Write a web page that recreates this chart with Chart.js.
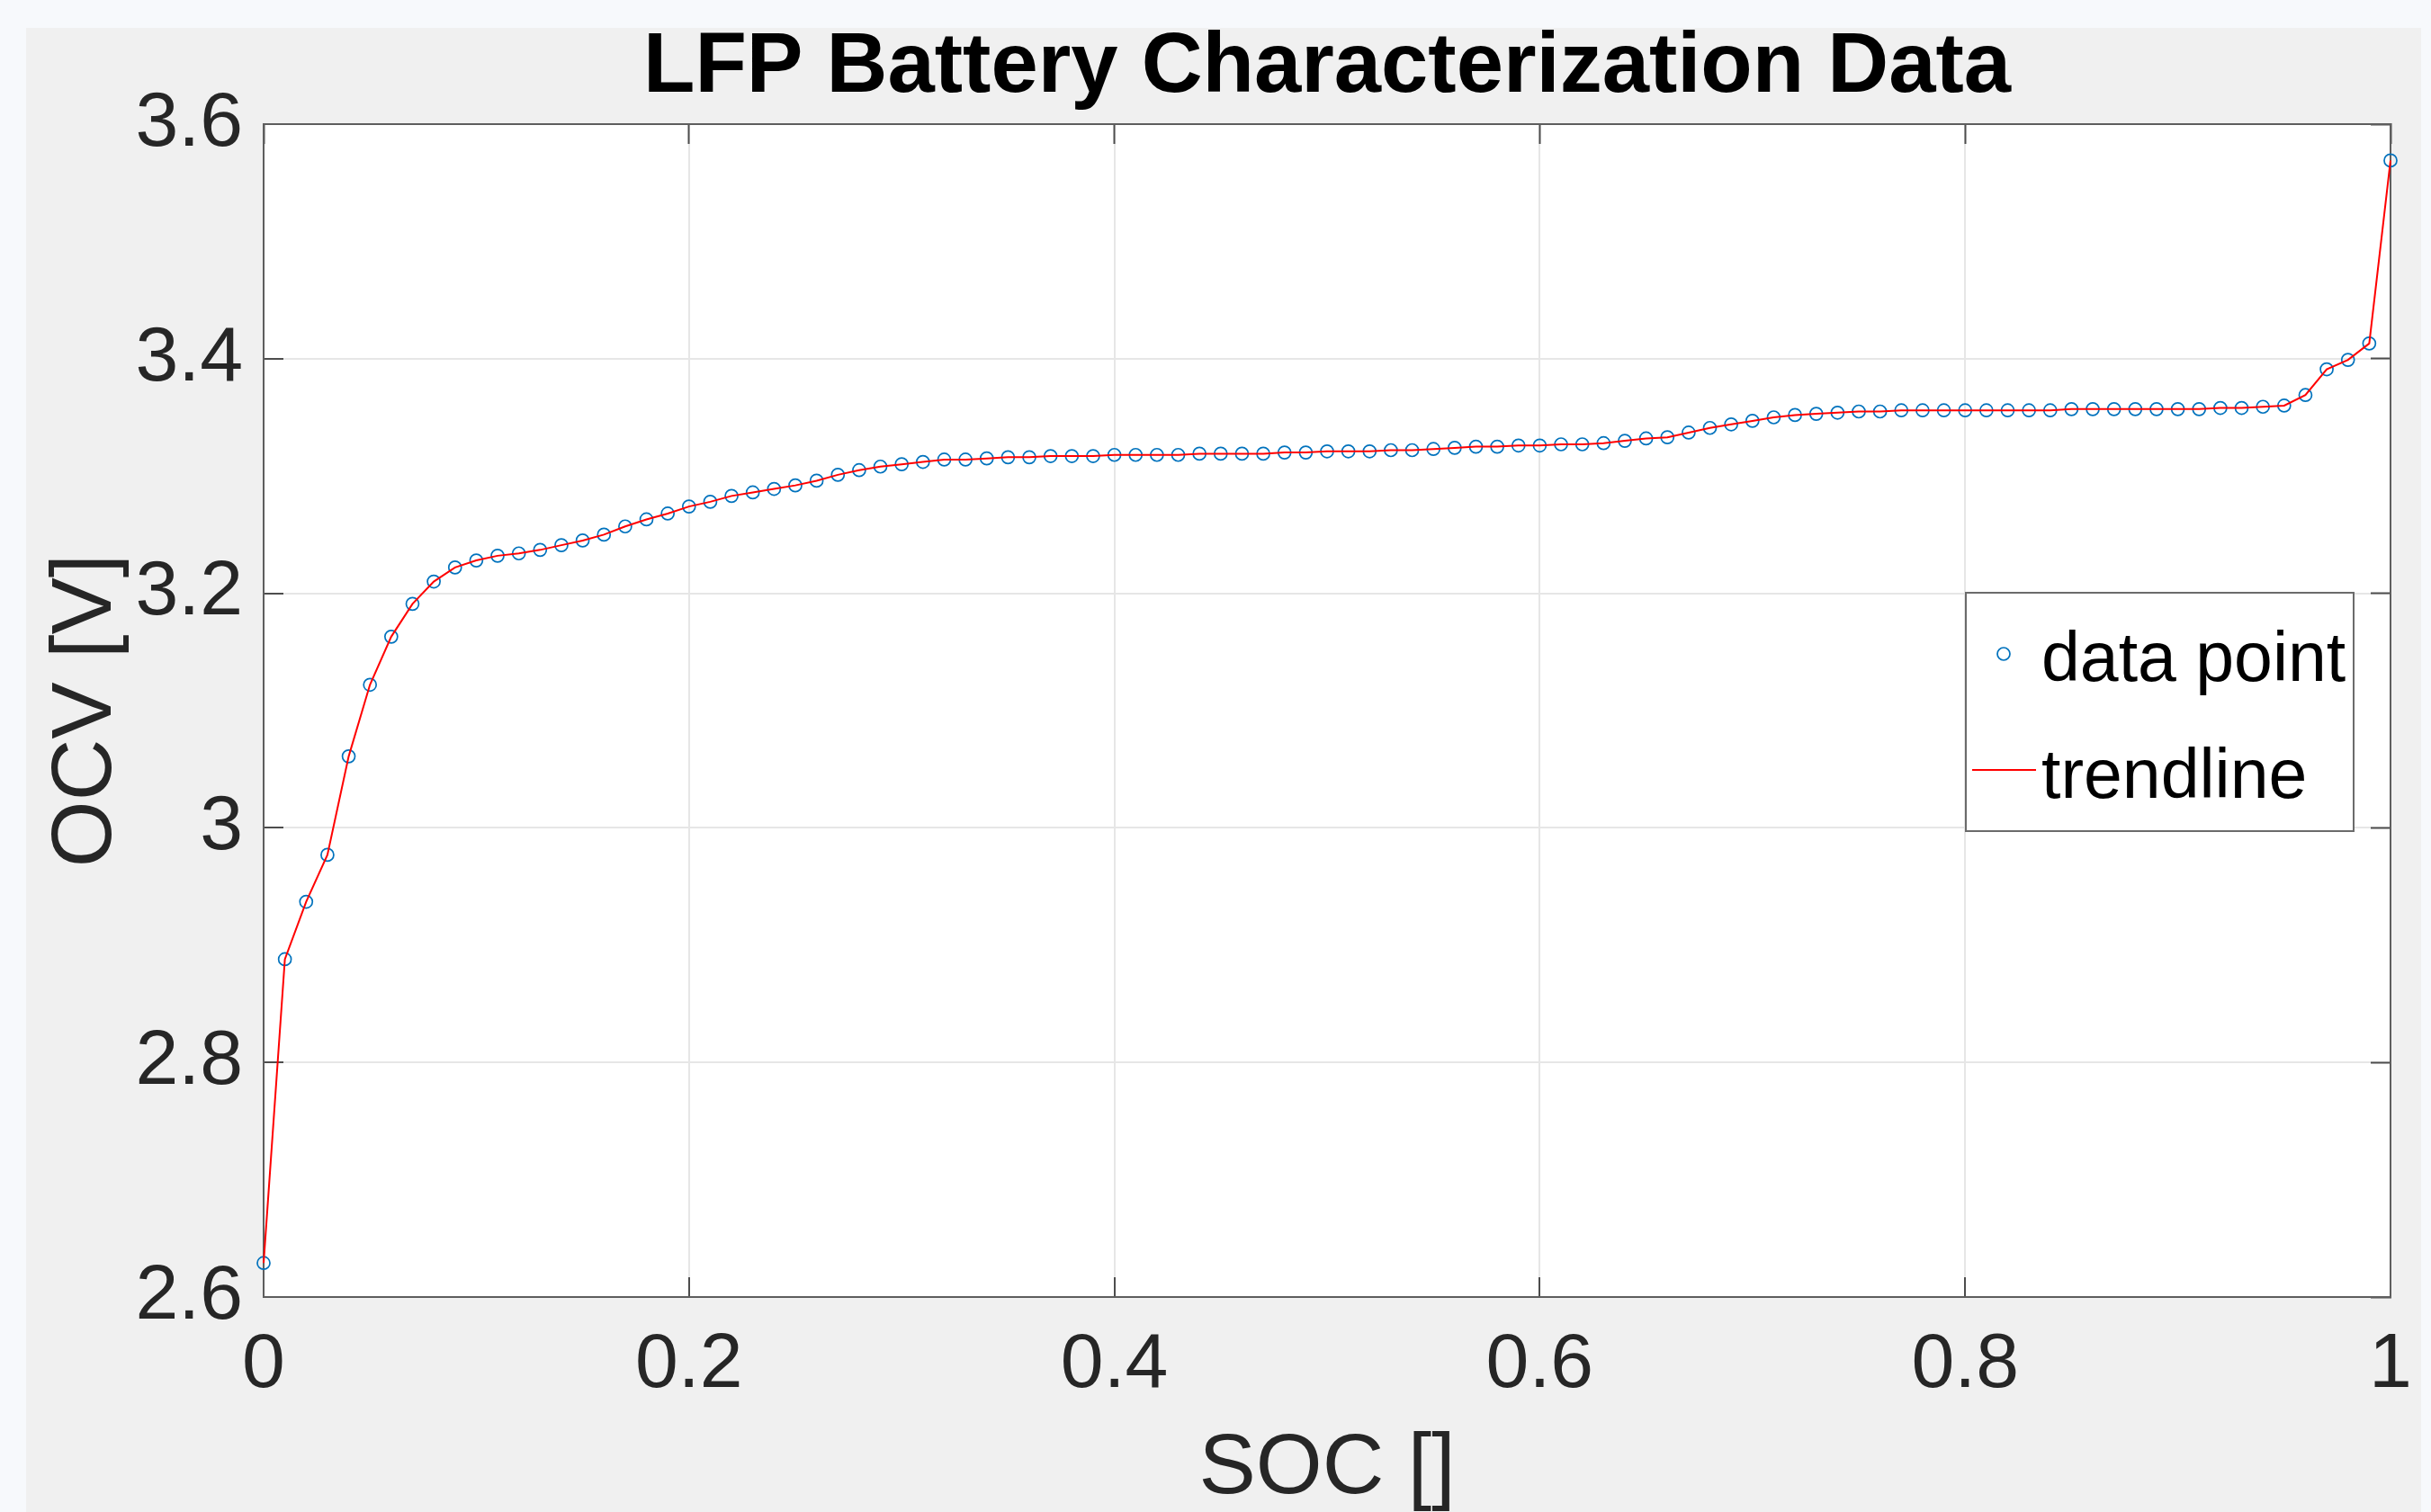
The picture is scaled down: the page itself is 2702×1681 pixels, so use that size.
<!DOCTYPE html>
<html>
<head>
<meta charset="utf-8">
<title>LFP Battery Characterization Data</title>
<script src="https://cdn.jsdelivr.net/npm/chart.js@4.4.1/dist/chart.umd.min.js"></script>
<style>
  html, body { margin: 0; padding: 0; background: #f7f9fc; }
  canvas { display: block; }
</style>
</head>
<body>
<canvas id="ocvChart" width="2702" height="1681"></canvas>
<script>
// state of charge, 0..1 in 0.01 steps
var soc = [
  0.00, 0.01, 0.02, 0.03, 0.04, 0.05, 0.06, 0.07, 0.08, 0.09,
  0.10, 0.11, 0.12, 0.13, 0.14, 0.15, 0.16, 0.17, 0.18, 0.19,
  0.20, 0.21, 0.22, 0.23, 0.24, 0.25, 0.26, 0.27, 0.28, 0.29,
  0.30, 0.31, 0.32, 0.33, 0.34, 0.35, 0.36, 0.37, 0.38, 0.39,
  0.40, 0.41, 0.42, 0.43, 0.44, 0.45, 0.46, 0.47, 0.48, 0.49,
  0.50, 0.51, 0.52, 0.53, 0.54, 0.55, 0.56, 0.57, 0.58, 0.59,
  0.60, 0.61, 0.62, 0.63, 0.64, 0.65, 0.66, 0.67, 0.68, 0.69,
  0.70, 0.71, 0.72, 0.73, 0.74, 0.75, 0.76, 0.77, 0.78, 0.79,
  0.80, 0.81, 0.82, 0.83, 0.84, 0.85, 0.86, 0.87, 0.88, 0.89,
  0.90, 0.91, 0.92, 0.93, 0.94, 0.95, 0.96, 0.97, 0.98, 0.99,
  1.00
];
// open circuit voltage [V]
var ocv = [
  2.629, 2.888, 2.937, 2.977, 3.061, 3.122, 3.163, 3.191, 3.210, 3.222,
  3.228, 3.232, 3.234, 3.237, 3.241, 3.245, 3.250, 3.257, 3.263, 3.268,
  3.274, 3.278, 3.283, 3.286, 3.289, 3.292, 3.296, 3.301, 3.305, 3.308,
  3.310, 3.312, 3.314, 3.314, 3.315, 3.316, 3.316, 3.317, 3.317, 3.317,
  3.318, 3.318, 3.318, 3.318, 3.319, 3.319, 3.319, 3.319, 3.320, 3.320,
  3.321, 3.321, 3.321, 3.322, 3.322, 3.323, 3.324, 3.325, 3.325, 3.326,
  3.326, 3.327, 3.327, 3.328, 3.330, 3.332, 3.333, 3.337, 3.341, 3.344,
  3.347, 3.350, 3.352, 3.353, 3.354, 3.355, 3.355, 3.356, 3.356, 3.356,
  3.356, 3.356, 3.356, 3.356, 3.356, 3.357, 3.357, 3.357, 3.357, 3.357,
  3.357, 3.357, 3.358, 3.358, 3.359, 3.360, 3.369, 3.391, 3.399, 3.413,
  3.569
];
var xTicks = [0, 0.2, 0.4, 0.6, 0.8, 1];
var yTicks = [2.6, 2.8, 3, 3.2, 3.4, 3.6];

var FONT = '"Liberation Sans", Arial, Helvetica, sans-serif';
var BLUE = '#0072BD';
var RED = '#ff0000';

var points = [];
for (var i = 0; i < soc.length; i++) {
    points.push({ x: soc[i], y: ocv[i] });
}

function useTicks(list) {
    return function (axis) {
        axis.ticks = list.map(function (v) { return { value: v }; });
    };
}

// grey figure background + white axes area
var backgroundPlugin = {
    id: 'figureBackground',
    beforeDraw: function (chart) {
        var c = chart.ctx, a = chart.chartArea;
        c.save();
        c.fillStyle = '#f7f9fc';
        c.fillRect(0, 0, chart.width, chart.height);
        c.fillStyle = '#f0f0f0';
        c.fillRect(29, 31, 2662, chart.height - 31);
        c.fillStyle = '#ffffff';
        c.fillRect(a.left, a.top, a.right - a.left, a.bottom - a.top);
        c.restore();
    }
};

// boxed legend inside the axes, like matlab's "best" location
var legendPlugin = {
    id: 'boxLegend',
    afterDraw: function (chart) {
        var c = chart.ctx, a = chart.chartArea;
        var left = a.right - 472, top = a.top + 521, w = 431, h = 265;
        c.save();
        c.fillStyle = '#ffffff';
        c.fillRect(left, top, w, h);
        c.strokeStyle = '#6b6b6b';
        c.lineWidth = 2;
        c.strokeRect(left, top, w, h);
        // data point marker
        c.beginPath();
        c.arc(left + 42, top + 68, 7, 0, Math.PI * 2);
        c.strokeStyle = BLUE;
        c.lineWidth = 1.7;
        c.stroke();
        // trendline sample
        c.beginPath();
        c.moveTo(left + 7, top + 197);
        c.lineTo(left + 78, top + 197);
        c.strokeStyle = RED;
        c.lineWidth = 2;
        c.stroke();
        c.fillStyle = '#000000';
        c.font = '77px ' + FONT;
        c.textBaseline = 'alphabetic';
        c.textAlign = 'left';
        c.fillText('data point', left + 84, top + 98);
        c.fillText('trendline', left + 84, top + 228);
        c.restore();
    }
};

var gridOpts = {
    color: '#e6e6e6',
    lineWidth: 2,
    tickLength: -22,
    tickColor: '#4d4d4d',
    tickWidth: 2
};
var borderOpts = { display: true, color: '#5e5e5e', width: 2 };

var ctx = document.getElementById('ocvChart').getContext('2d');
var ocvChart = new Chart(ctx, {
    type: 'scatter',
    data: {
        datasets: [
            {
                label: 'trendline',
                data: points,
                showLine: true,
                borderColor: RED,
                borderWidth: 2,
                pointRadius: 0,
                pointHoverRadius: 0,
                tension: 0,
                clip: false,
                order: 1
            },
            {
                label: 'data point',
                data: points,
                showLine: false,
                pointStyle: 'circle',
                pointRadius: 7,
                pointHoverRadius: 7,
                borderWidth: 1.7,
                borderColor: BLUE,
                backgroundColor: 'rgba(0,0,0,0)',
                clip: false,
                order: 2
            }
        ]
    },
    options: {
        responsive: false,
        devicePixelRatio: 1,
        animation: false,
        events: [],
        layout: { padding: { left: 29, right: 45, top: 25, bottom: 0 } },
        plugins: {
            legend: { display: false },
            tooltip: { enabled: false },
            title: {
                display: true,
                text: 'LFP Battery Characterization Data',
                fullSize: false,
                color: '#000000',
                font: { family: FONT, size: 94, weight: 'bold', lineHeight: 1 },
                padding: { top: 4, bottom: 15 }
            }
        },
        scales: {
            x: {
                type: 'linear',
                position: 'bottom',
                min: 0,
                max: 1,
                afterBuildTicks: useTicks(xTicks),
                afterFit: function (s) { s.height = 239; s.paddingLeft = 0; s.paddingRight = 0; },
                grid: gridOpts,
                border: borderOpts,
                ticks: {
                    color: '#262626',
                    font: { family: FONT, size: 86 },
                    padding: 47,
                    maxRotation: 0,
                    autoSkip: false,
                    callback: function (v) { return String(v); }
                },
                title: {
                    display: true,
                    text: 'SOC []',
                    color: '#262626',
                    font: { family: FONT, size: 95, lineHeight: 1 },
                    padding: { top: 0, bottom: 0 }
                }
            },
            y: {
                type: 'linear',
                position: 'left',
                min: 2.6,
                max: 3.6,
                afterBuildTicks: useTicks(yTicks),
                afterFit: function (s) { s.width = 264; s.paddingTop = 0; s.paddingBottom = 0; },
                grid: gridOpts,
                border: borderOpts,
                ticks: {
                    color: '#262626',
                    font: { family: FONT, size: 86 },
                    padding: 45,
                    autoSkip: false,
                    callback: function (v) { return String(v); }
                },
                title: {
                    display: true,
                    text: 'OCV [V]',
                    color: '#262626',
                    font: { family: FONT, size: 95, lineHeight: 1 },
                    padding: { top: 20, bottom: 0 }
                }
            },
            // top and right axes only for the box and the inward tick marks
            x2: {
                type: 'linear',
                position: 'top',
                min: 0,
                max: 1,
                afterBuildTicks: useTicks(xTicks),
                afterFit: function (s) { s.height = 0; s.paddingLeft = 0; s.paddingRight = 0; },
                grid: { drawOnChartArea: false, tickLength: -22, tickColor: '#4d4d4d', tickWidth: 2 },
                border: borderOpts,
                ticks: { display: false }
            },
            y2: {
                type: 'linear',
                position: 'right',
                min: 2.6,
                max: 3.6,
                afterBuildTicks: useTicks(yTicks),
                afterFit: function (s) { s.width = 0; s.paddingTop = 0; s.paddingBottom = 0; },
                grid: { drawOnChartArea: false, tickLength: -22, tickColor: '#4d4d4d', tickWidth: 2 },
                border: borderOpts,
                ticks: { display: false }
            }
        }
    },
    plugins: [backgroundPlugin, legendPlugin]
});
</script>
</body>
</html>
